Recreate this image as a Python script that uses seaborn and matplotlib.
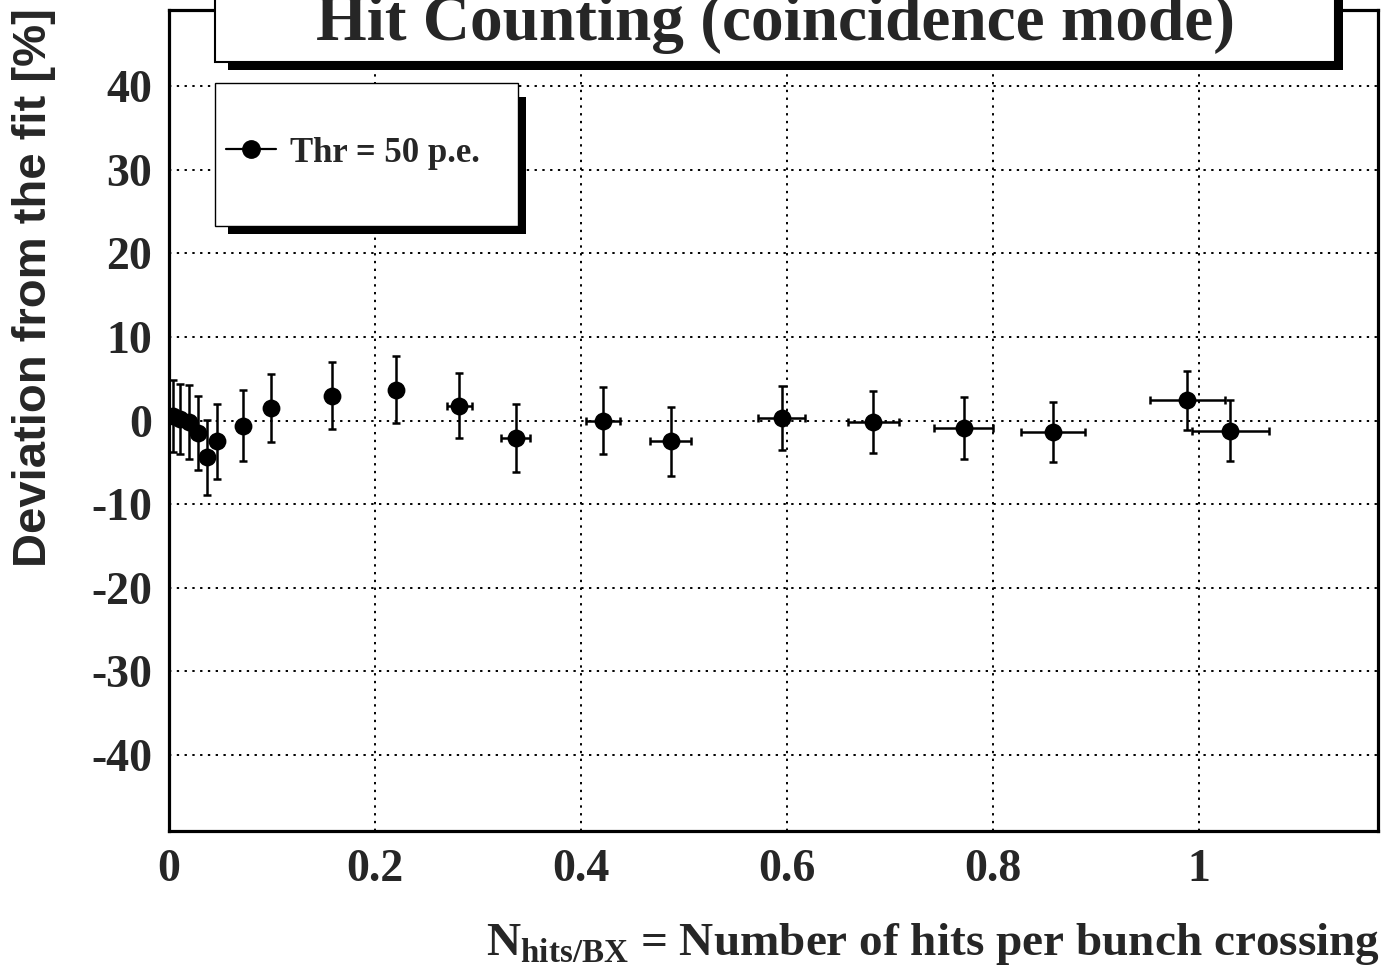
import matplotlib
matplotlib.use('Agg')
import matplotlib.pyplot as plt
from matplotlib.patches import Rectangle
from matplotlib.lines import Line2D
from matplotlib.ticker import MultipleLocator, FuncFormatter
import seaborn as sns
import numpy as np
import pandas as pd

# hits per BX, deviation from fit [%], and errors
n_hits = [0.0036, 0.0107, 0.019, 0.028, 0.0366, 0.0466, 0.0718, 0.0993, 0.158, 0.2204,
          0.282, 0.3366, 0.4217, 0.487, 0.595, 0.684, 0.7715, 0.858, 0.989, 1.0307]
deviation = [0.5, 0.2, -0.2, -1.5, -4.4, -2.5, -0.6, 1.5, 2.95, 3.66,
             1.75, -2.1, 0.0, -2.5, 0.3, -0.2, -0.9, -1.4, 2.4, -1.2]
dev_err = [4.3, 4.2, 4.4, 4.4, 4.5, 4.5, 4.3, 4.1, 4.0, 4.0,
           3.9, 4.1, 4.0, 4.1, 3.8, 3.7, 3.7, 3.6, 3.5, 3.6]
hits_err = [0.0002, 0.0004, 0.0006, 0.0009, 0.0011, 0.0014, 0.002, 0.0028, 0.0045, 0.006,
            0.012, 0.014, 0.0167, 0.0195, 0.023, 0.025, 0.0285, 0.031, 0.036, 0.0375]
series_label = 'Thr = 50 p.e.'
title = 'Hit Counting (coincidence mode)'

df = pd.DataFrame({'x': n_hits, 'y': deviation})

sns.set_theme(style='white')
plt.rcParams['font.family'] = ['Liberation Serif', 'DejaVu Serif']
plt.rcParams['font.weight'] = 'bold'
plt.rcParams['axes.unicode_minus'] = False
plt.rcParams['mathtext.fontset'] = 'custom'
plt.rcParams['mathtext.rm'] = 'Liberation Serif'
plt.rcParams['mathtext.bf'] = 'Liberation Serif:bold'

W, H = 1384, 972
fig = plt.figure(figsize=(W / 100, H / 100), dpi=100)
ax = fig.add_axes([169 / W, 1 - 831 / H, (1378 - 169) / W, (831 - 10) / H])

ax.errorbar(n_hits, deviation, xerr=hits_err, yerr=dev_err, fmt='none',
            ecolor='black', elinewidth=1.8, capsize=2.8, capthick=1.8, zorder=3)
sns.scatterplot(data=df, x='x', y='y', ax=ax, color='black', s=165,
                edgecolor='black', linewidth=0, zorder=4, legend=False)

ax.set_xlim(0, 1.174)
ax.set_ylim(-49.1, 49.1)
ax.xaxis.set_major_locator(MultipleLocator(0.2))
ax.xaxis.set_minor_locator(MultipleLocator(0.05))
ax.yaxis.set_major_locator(MultipleLocator(10))
ax.yaxis.set_minor_locator(MultipleLocator(2))
ax.xaxis.set_major_formatter(FuncFormatter(lambda v, p: '%g' % round(v, 3)))
ax.yaxis.set_major_formatter(FuncFormatter(lambda v, p: '%d' % round(v)))
ax.set_xlabel('')
ax.set_ylabel('')

ax.grid(True, which='major', color='black', linestyle=(0, (1.2, 2.8)), linewidth=1.4)
ax.tick_params(axis='both', which='both', direction='in', top=False, right=False,
               color='black')
ax.tick_params(axis='x', which='major', length=14, width=1, pad=13, labelsize=33)
ax.tick_params(axis='x', which='minor', length=6, width=1.5)
ax.tick_params(axis='y', which='major', length=10, width=1.5, pad=12, labelsize=33)
ax.tick_params(axis='y', which='minor', length=8.5, width=1.5)
for s in ax.spines.values():
    s.set_color('black')
    s.set_linewidth(2.3)
for lab in ax.get_xticklabels() + ax.get_yticklabels():
    lab.set_fontweight('bold')

# title box with ROOT-like shadow
fig.patches.append(Rectangle((228 / W, 1 - 70 / H), (1343 - 228) / W, 0.2,
                             transform=fig.transFigure, facecolor='black',
                             edgecolor='none', zorder=5))
fig.patches.append(Rectangle((215 / W, 1 - 62 / H), (1335 - 215) / W, 0.2,
                             transform=fig.transFigure, facecolor='white',
                             edgecolor='black', linewidth=1.5, zorder=5.1))
fig.text(775 / W, 1 - 40 / H, title, ha='center', va='baseline',
         fontsize=47, fontweight='bold', zorder=6)

# legend box
fig.patches.append(Rectangle((228 / W, 1 - 234 / H), (526 - 228) / W, (234 - 97) / H,
                             transform=fig.transFigure, facecolor='black',
                             edgecolor='none', zorder=5))
fig.patches.append(Rectangle((215 / W, 1 - 226 / H), (518 - 215) / W, (226 - 83) / H,
                             transform=fig.transFigure, facecolor='white',
                             edgecolor='black', linewidth=1.0, zorder=5.1))
handle = Line2D([], [], color='black', lw=1.6, marker='o', markersize=12.5)
leg = fig.legend(handles=[handle], labels=[series_label], loc='center left',
                 bbox_to_anchor=(226 / W, 1 - 153 / H), bbox_transform=fig.transFigure,
                 frameon=False, handlelength=1.45, handletextpad=0.4, borderpad=0,
                 borderaxespad=0, prop={'family': 'Liberation Serif', 'weight': 'bold',
                                        'size': 25})
leg.set_zorder(7)

# axis titles
fig.text(34 / W, 1 - 8 / H, 'Deviation from the fit [%]', rotation=90, ha='center',
         va='top', fontsize=34, fontweight='bold',
         family=['Liberation Sans', 'DejaVu Sans'])
fig.text(1380 / W, 1 - 955 / H,
         r'$\mathrm{N}_{\mathbf{hits/BX}}$ = Number of hits per bunch crossing',
         ha='right', va='baseline', fontsize=34, fontweight='bold')

fig.savefig('out.png', dpi=100)
